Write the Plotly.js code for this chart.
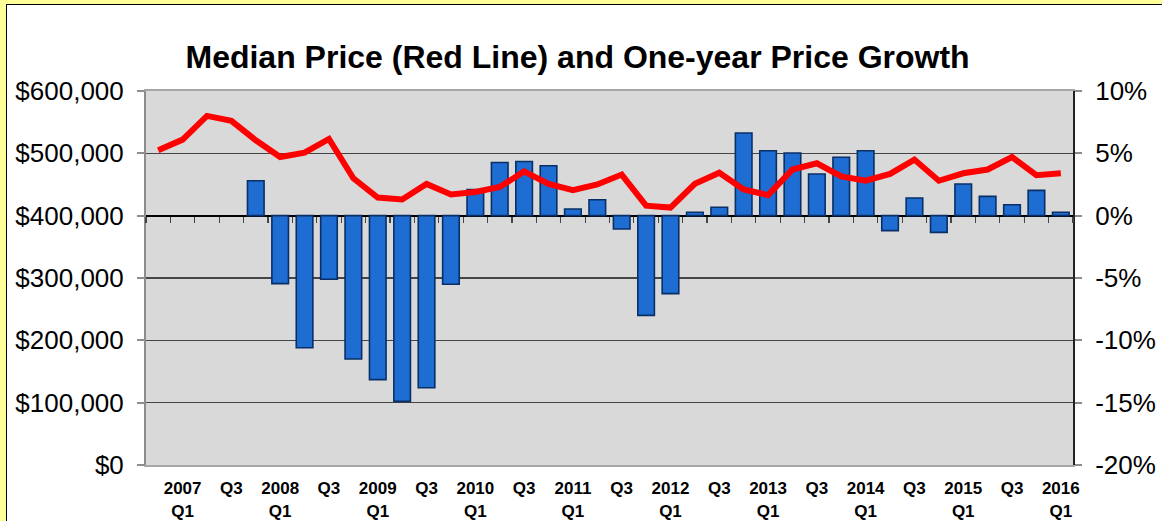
<!DOCTYPE html>
<html>
<head>
<meta charset="utf-8">
<script src="https://cdn.plot.ly/plotly-3.0.1.min.js"></script>
<style>
  html, body { margin: 0; padding: 0; background: #FFFF99; width: 1162px; height: 521px; overflow: hidden; }
  #frame { position: absolute; left: 6px; top: 4px; width: 1156px; height: 517px; border-left: 1px solid #000; border-top: 1px solid #000; background: #fff; }
  #chart { width: 1155px; height: 516px; }
</style>
</head>
<body>
<div id="frame"><div id="chart"></div></div>
<script>
// Quarters (categories)
const quarters = [
  '2006 Q4',
  '2007 Q1','2007 Q2','2007 Q3','2007 Q4',
  '2008 Q1','2008 Q2','2008 Q3','2008 Q4',
  '2009 Q1','2009 Q2','2009 Q3','2009 Q4',
  '2010 Q1','2010 Q2','2010 Q3','2010 Q4',
  '2011 Q1','2011 Q2','2011 Q3','2011 Q4',
  '2012 Q1','2012 Q2','2012 Q3','2012 Q4',
  '2013 Q1','2013 Q2','2013 Q3','2013 Q4',
  '2014 Q1','2014 Q2','2014 Q3','2014 Q4',
  '2015 Q1','2015 Q2','2015 Q3','2015 Q4',
  '2016 Q1'
];

// Median price (red line, left axis, $)
const medianPrice = [
  505000,
  522000, 560000, 552000, 521000,
  494000, 501000, 523000, 460000,
  429000, 426000, 451000, 434000,
  438000, 446000, 471000, 451000,
  441000, 450000, 466000, 416000,
  413000, 451000, 469000, 442000,
  433000, 474000, 484000, 463000,
  456000, 467000, 490000, 456000,
  468000, 474000, 494000, 465000,
  468000
];

// One-year price growth (blue bars, right axis, %)
const priceGrowth = [
  null,
  null, null, null, 2.8,
  -5.45, -10.6, -5.1, -11.5,
  -13.15, -14.9, -13.8, -5.5,
  2.1, 4.27, 4.35, 4.0,
  0.53, 1.28, -1.07, -8.0,
  -6.25, 0.27, 0.67, 6.63,
  5.21, 5.03, 3.34, 4.68,
  5.21, -1.2, 1.42, -1.34,
  2.54, 1.55, 0.88, 2.03,
  0.27
];

// X tick labels (every other quarter)
const xTickVals = ['2007 Q1','2007 Q3','2008 Q1','2008 Q3','2009 Q1','2009 Q3','2010 Q1','2010 Q3',
  '2011 Q1','2011 Q3','2012 Q1','2012 Q3','2013 Q1','2013 Q3','2014 Q1','2014 Q3','2015 Q1','2015 Q3','2016 Q1'];
const xTickText = ['2007<br>Q1','Q3','2008<br>Q1','Q3','2009<br>Q1','Q3','2010<br>Q1','Q3',
  '2011<br>Q1','Q3','2012<br>Q1','Q3','2013<br>Q1','Q3','2014<br>Q1','Q3','2015<br>Q1','Q3','2016<br>Q1'];

// Right axis ticks
const pctTickVals = [-20, -15, -10, -5, 0, 5, 10];
const pctTickText = ['-20%', '-15%', '-10%', '-5%', '0%', '5%', '10%'];

// Axis ranges
const priceRange = [0, 600000];
const pctRange = [-20, 10];

const bars = {
  type: 'bar',
  x: quarters,
  y: priceGrowth,
  xaxis: 'x',
  yaxis: 'y',
  marker: { color: '#1E6DD2', line: { color: '#0A2F66', width: 1.6 } },
  hoverinfo: 'skip'
};

const line = {
  type: 'scatter',
  mode: 'lines',
  x: quarters,
  y: medianPrice,
  xaxis: 'x2',
  yaxis: 'y2',
  line: { color: '#FF0000', width: 6 },
  hoverinfo: 'skip'
};

const tickFont = { family: 'Liberation Sans, Arial, sans-serif', size: 26, color: '#000' };

const layout = {
  width: 1155,
  height: 516,
  margin: { l: 139, r: 89, t: 86, b: 56 },
  paper_bgcolor: '#FFFFFF',
  plot_bgcolor: '#D9D9D9',
  showlegend: false,
  bargap: 0.32,
  title: {
    text: 'Median Price (Red Line) and One-year Price Growth',
    font: { family: 'Liberation Sans, Arial, sans-serif', size: 32, color: '#000', weight: 700 },
    x: 0.494, xref: 'container', xanchor: 'center',
    y: 0.922, yref: 'container', yanchor: 'top'
  },
  xaxis: {
    type: 'category',
    categoryorder: 'array',
    categoryarray: quarters,
    range: [-0.5, quarters.length - 0.5],
    tickmode: 'array',
    tickvals: xTickVals,
    ticktext: xTickText,
    ticks: '',
    ticklabelstandoff: 7,
    tickfont: { family: 'Liberation Sans, Arial, sans-serif', size: 17, color: '#000', weight: 700 },
    showline: true,
    linecolor: '#A6A6A6',
    linewidth: 2,
    mirror: true,
    showgrid: false,
    zeroline: false,
    fixedrange: true
  },
  xaxis2: {
    type: 'category',
    overlaying: 'x',
    anchor: 'free',
    position: (400000 - priceRange[0]) / (priceRange[1] - priceRange[0]),
    categoryorder: 'array',
    categoryarray: quarters,
    range: [-0.5, quarters.length - 0.5],
    tickmode: 'linear',
    dtick: 1,
    tickson: 'boundaries',
    ticks: 'outside',
    side: 'bottom',
    ticklen: 6,
    tickwidth: 1.2,
    tickcolor: '#444',
    showticklabels: false,
    showline: false,
    showgrid: false,
    zeroline: false,
    fixedrange: true
  },
  yaxis: {
    side: 'right',
    range: pctRange,
    tickmode: 'array',
    tickvals: pctTickVals,
    ticktext: pctTickText,
    tickfont: tickFont,
    ticks: 'outside',
    ticklen: 7,
    tickcolor: '#8C8C8C',
    tickwidth: 2,
    showline: true,
    linecolor: '#222222',
    linewidth: 2,
    showgrid: true,
    gridcolor: '#454545',
    gridwidth: 1.2,
    zeroline: true,
    zerolinecolor: '#000000',
    zerolinewidth: 2,
    ticklabelstandoff: 8,
    fixedrange: true
  },
  yaxis2: {
    side: 'left',
    overlaying: 'y',
    range: priceRange,
    dtick: 100000,
    tickprefix: '$',
    tickformat: ',d',
    tickfont: tickFont,
    ticks: 'outside',
    ticklen: 7,
    tickcolor: '#8C8C8C',
    tickwidth: 2,
    showline: true,
    linecolor: '#8C8C8C',
    linewidth: 2,
    showgrid: false,
    zeroline: false,
    ticklabelstandoff: 8,
    fixedrange: true
  }
};

Plotly.newPlot('chart', [bars, line], layout, { staticPlot: true, displayModeBar: false });
</script>
</body>
</html>
